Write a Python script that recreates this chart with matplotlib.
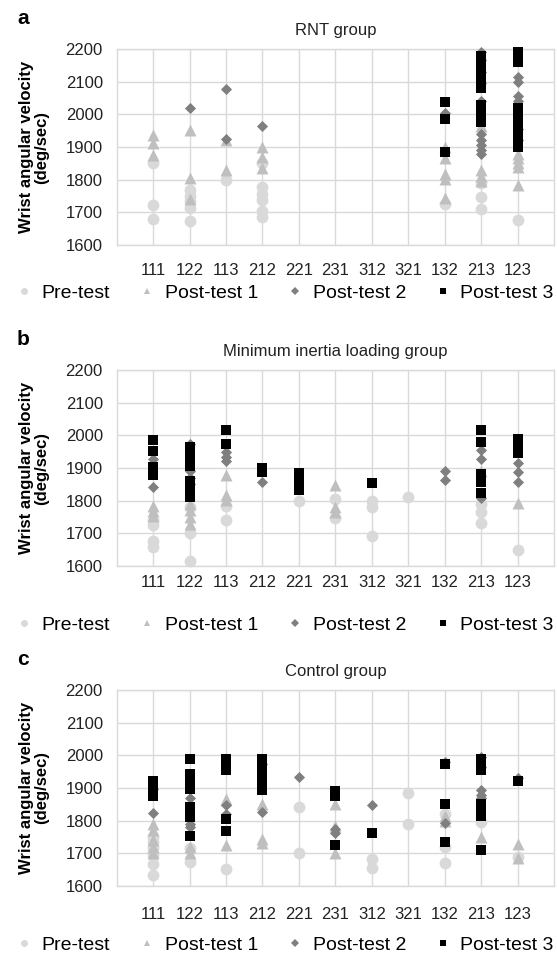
import matplotlib
matplotlib.use('Agg')
import matplotlib.pyplot as plt
from matplotlib.lines import Line2D

plt.rcParams['font.family'] = ['Liberation Sans', 'DejaVu Sans']

categories = ['111', '122', '113', '212', '221', '231', '312', '321', '132', '213', '123']
series_names = ['Pre-test', 'Post-test 1', 'Post-test 2', 'Post-test 3']
panel_titles = ['RNT group', 'Minimum inertia loading group', 'Control group']
panel_letters = ['a', 'b', 'c']
y_ticks = [1600, 1700, 1800, 1900, 2000, 2100, 2200]

# ---- Panel a: RNT group ----
rnt_pre_cat = ['111', '111', '111', '122', '122', '122', '122', '122', '113',
               '212', '212', '212', '212', '212', '212', '132', '213', '213', '213', '123']
rnt_pre_val = [1850, 1721, 1680, 1768, 1750, 1735, 1714, 1672, 1800,
               1852, 1778, 1756, 1738, 1705, 1687, 1725, 1790, 1748, 1710, 1677]
rnt_p1_cat = ['111', '111', '111', '122', '122', '122', '113', '113', '212', '212', '212',
              '132', '132', '132', '132', '132', '213', '213', '213', '213',
              '123', '123', '123', '123', '123']
rnt_p1_val = [1938, 1911, 1875, 1952, 1804, 1740, 1920, 1830, 1900, 1868, 1837,
              1900, 1865, 1818, 1802, 1745, 1965, 1830, 1810, 1795,
              1880, 1865, 1850, 1838, 1784]
rnt_p2_cat = ['122', '113', '113', '212', '132',
              '213', '213', '213', '213', '213', '213', '213', '213', '213', '213',
              '123', '123', '123', '123', '123', '123']
rnt_p2_val = [2018, 2078, 1925, 1965, 2005,
              2192, 2165, 2130, 2095, 2042, 1940, 1920, 1905, 1890, 1878,
              2115, 2098, 2057, 2042, 1955, 1920]
rnt_p3_cat = ['132', '132', '132',
              '213', '213', '213', '213', '213', '213', '213', '213', '213', '213', '213',
              '123', '123', '123', '123', '123', '123', '123', '123', '123', '123', '123']
rnt_p3_val = [2037, 1985, 1885,
              2180, 2165, 2150, 2135, 2118, 2100, 2082, 2030, 2010, 1992, 1978,
              2192, 2160, 2020, 2000, 1985, 1970, 1955, 1940, 1925, 1910, 1900]

# ---- Panel b: Minimum inertia loading group ----
mil_pre_cat = ['111', '111', '111', '111', '122', '122', '122', '113', '113', '221',
               '231', '231', '312', '312', '312', '321', '213', '213', '213', '123']
mil_pre_val = [1740, 1727, 1677, 1657, 1780, 1700, 1615, 1783, 1742, 1800,
               1805, 1748, 1800, 1780, 1693, 1812, 1790, 1766, 1731, 1650]
mil_p1_cat = ['111', '111', '111', '122', '122', '122', '122', '113', '113', '113',
              '231', '231', '231', '213', '123']
mil_p1_val = [1785, 1768, 1752, 1790, 1770, 1750, 1730, 1880, 1818, 1803,
              1848, 1780, 1765, 1890, 1792]
mil_p2_cat = ['111', '111', '122', '122', '122', '122', '113', '113', '113', '212',
              '132', '132', '213', '213', '213', '123', '123', '123']
mil_p2_val = [1929, 1842, 1975, 1890, 1870, 1850, 1950, 1935, 1920, 1858,
              1890, 1862, 1955, 1929, 1807, 1914, 1888, 1858]
mil_p3_cat = ['111', '111', '111', '111',
              '122', '122', '122', '122', '122', '122', '122', '122',
              '113', '113', '212', '212', '221', '221', '221', '221', '312',
              '213', '213', '213', '213', '213', '123', '123', '123', '123']
mil_p3_val = [1985, 1953, 1903, 1880,
              1965, 1945, 1925, 1905, 1860, 1840, 1820, 1810,
              2015, 1972, 1900, 1888, 1885, 1865, 1845, 1832, 1853,
              2016, 1980, 1883, 1858, 1822, 1990, 1975, 1960, 1945]

# ---- Panel c: Control group ----
ctl_pre_cat = ['111', '111', '111', '111', '111', '111', '122', '122', '113',
               '221', '221', '312', '312', '321', '321', '132', '132', '132', '213', '123']
ctl_pre_val = [1750, 1735, 1715, 1695, 1668, 1633, 1715, 1675, 1651,
               1842, 1700, 1682, 1654, 1885, 1790, 1820, 1720, 1671, 1796, 1690]
ctl_p1_cat = ['111', '111', '111', '111', '111', '122', '122', '113', '113',
              '212', '212', '212', '231', '231', '231', '132', '132', '213', '123', '123']
ctl_p1_val = [1790, 1770, 1740, 1720, 1700, 1720, 1700, 1867, 1725,
              1850, 1745, 1732, 1850, 1785, 1700, 1815, 1800, 1750, 1730, 1685]
ctl_p2_cat = ['111', '111', '122', '122', '122', '113', '113', '212', '212', '221',
              '231', '231', '312', '132', '132', '213', '213', '213', '213', '213', '123']
ctl_p2_val = [1896, 1825, 1868, 1790, 1781, 1847, 1821, 1975, 1828, 1934,
              1775, 1761, 1848, 1980, 1794, 1995, 1965, 1895, 1880, 1870, 1930]
ctl_p3_cat = ['111', '111', '111',
              '122', '122', '122', '122', '122', '122', '122', '122',
              '113', '113', '113', '113', '113',
              '212', '212', '212', '212', '212', '212',
              '231', '231', '231', '312', '132', '132', '132',
              '213', '213', '213', '213', '213', '213', '213', '123']
ctl_p3_val = [1922, 1890, 1875,
              1990, 1942, 1917, 1897, 1842, 1825, 1811, 1753,
              1990, 1970, 1954, 1806, 1768,
              1990, 1970, 1950, 1930, 1910, 1895,
              1890, 1875, 1727, 1763, 1973, 1851, 1736,
              1990, 1975, 1955, 1850, 1830, 1815, 1711, 1920]

panels = [
    [(rnt_pre_cat, rnt_pre_val), (rnt_p1_cat, rnt_p1_val), (rnt_p2_cat, rnt_p2_val), (rnt_p3_cat, rnt_p3_val)],
    [(mil_pre_cat, mil_pre_val), (mil_p1_cat, mil_p1_val), (mil_p2_cat, mil_p2_val), (mil_p3_cat, mil_p3_val)],
    [(ctl_pre_cat, ctl_pre_val), (ctl_p1_cat, ctl_p1_val), (ctl_p2_cat, ctl_p2_val), (ctl_p3_cat, ctl_p3_val)],
]

colors = ['#d9d9d9', '#bfbfbf', '#7f7f7f', '#000000']
markers = ['o', '^', 'D', 's']
sizes = [72, 74, 32, 44]
leg_sizes = [5.0, 5.0, 4.0, 4.5]

W, H = 557, 964
fig = plt.figure(figsize=(W / 100, H / 100), dpi=100)

left_px, right_px = 116.7, 554.0
tops = [49, 370, 690]
bottoms = [245, 566, 886]
xpads = [13, 6.5, 15]
legend_y = [293, 625, 945]
grid_col = '#d9d9d9'

for i in range(3):
    ax = fig.add_axes([left_px / W, 1 - bottoms[i] / H, (right_px - left_px) / W,
                       (bottoms[i] - tops[i]) / H])
    for j, (cat, val) in enumerate(panels[i]):
        xs = [categories.index(c) + 1 for c in cat]
        ax.scatter(xs, val, marker=markers[j], s=sizes[j], c=colors[j],
                   linewidths=0, zorder=3 + j, clip_on=False)
    ax.set_xlim(0, len(categories) + 1)
    ax.set_ylim(1600, 2200)
    ax.set_yticks(y_ticks)
    ax.set_xticks(range(1, len(categories) + 1))
    ax.set_xticklabels(categories)
    ax.tick_params(axis='both', length=0, labelsize=12, colors='#222222')
    ax.tick_params(axis='x', pad=xpads[i])
    ax.tick_params(axis='y', pad=10)
    ax.grid(True, color=grid_col, linewidth=1.0)
    ax.set_axisbelow(True)
    for s in ax.spines.values():
        s.set_color(grid_col)
        s.set_linewidth(1.0)
    ax.set_title(panel_titles[i], fontsize=12, pad=10, color='#222222')
    cy = 1 - (tops[i] + bottoms[i]) / 2 / H
    fig.text(34 / W, cy, 'Wrist angular velocity\n(deg/sec)', rotation=90,
             ha='center', va='center', fontsize=12, fontweight='bold',
             linespacing=1.0, multialignment='center')
    fig.text(17 / W, 1 - (tops[i] - 25) / H, panel_letters[i], fontsize=15,
             fontweight='bold', ha='left', va='baseline')
    handles = [Line2D([], [], linestyle='none', marker=markers[j], color=colors[j],
                      markersize=leg_sizes[j], markeredgewidth=0) for j in range(4)]
    fig.legend(handles, series_names, loc='center', ncol=4,
               bbox_to_anchor=(0.512, 1 - legend_y[i] / H), frameon=False,
               fontsize=14, handletextpad=0.5, columnspacing=1.5,
               handlelength=0.8, borderaxespad=0, borderpad=0)

fig.savefig('out.png', dpi=100)
